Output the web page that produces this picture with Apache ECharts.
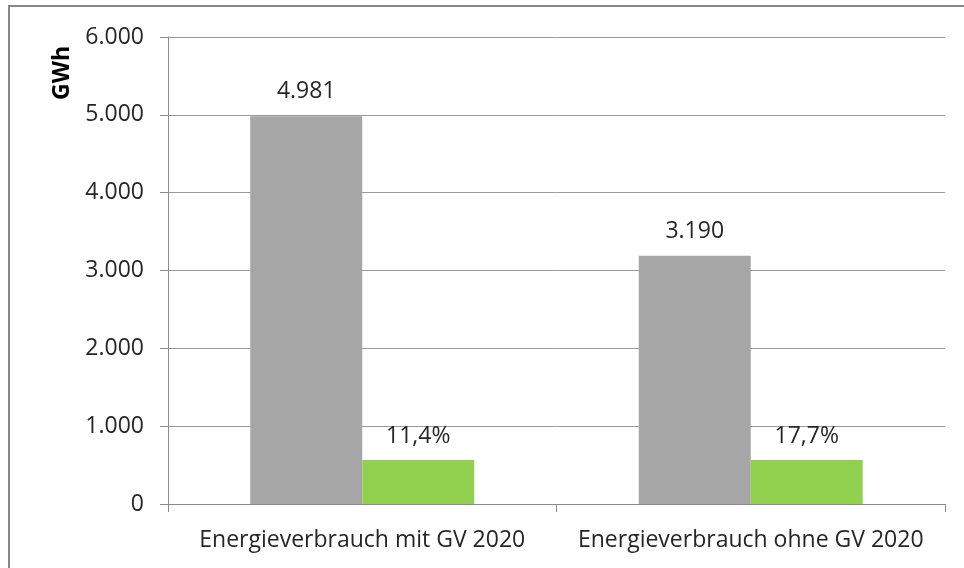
<!DOCTYPE html>
<html>
<head>
<meta charset="utf-8">
<script src="https://cdn.jsdelivr.net/npm/echarts@6/dist/echarts.min.js"></script>
<style>
html,body{margin:0;padding:0;background:#fff;}
#chart{width:964px;height:568px;}
</style>
</head>
<body>
<div id="chart"></div>
<script>
const categories = ['Energieverbrauch mit GV 2020', 'Energieverbrauch ohne GV 2020'];
const grayValues = [4981, 3190];
const greenValues = [566, 565];
const greenLabels = ['11,4%', '17,7%'];
const yTicks = [0, 1000, 2000, 3000, 4000, 5000, 6000];
const yAxisName = 'GWh';

function fmt(v) {
  return String(v).replace(/\B(?=(\d{3})+(?!\d))/g, '.');
}

const FONT = 'Open Sans';
const FS = 23;
const chart = echarts.init(document.getElementById('chart'));
chart.setOption({
  animation: false,
  textStyle: { fontFamily: FONT },
  graphic: [{
    type: 'rect', silent: true, z: -1,
    shape: { x: 9, y: 6, width: 1200, height: 1200 },
    style: { fill: 'none', stroke: '#878787', lineWidth: 2 }
  }, {
    type: 'text', silent: true,
    x: 62, y: 73, rotation: Math.PI / 2,
    style: { text: yAxisName, fill: '#000', font: 'bold 23px "Open Sans"', align: 'center', verticalAlign: 'middle' }
  }],
  grid: { left: 168, right: 19, top: 37, bottom: 64, containLabel: false },
  xAxis: {
    type: 'category',
    data: categories,
    axisLine: { lineStyle: { color: '#8c8c8c', width: 1 } },
    axisTick: { show: true, length: 8, lineStyle: { color: '#8c8c8c' } },
    axisLabel: { interval: 0, color: '#262626', fontSize: FS, fontFamily: FONT, margin: 25 }
  },
  yAxis: {
    type: 'value',
    min: yTicks[0],
    max: yTicks[yTicks.length - 1],
    interval: 1000,
    axisLine: { show: true, lineStyle: { color: '#8c8c8c', width: 1 } },
    axisTick: { show: true, length: 8, lineStyle: { color: '#8c8c8c' } },
    axisLabel: { color: '#262626', fontSize: FS, fontFamily: FONT, margin: 24, formatter: fmt },
    splitLine: { show: true, lineStyle: { color: '#9a9a9a', width: 1 } }
  },
  series: [
    {
      type: 'bar',
      data: grayValues,
      barWidth: 112,
      barGap: '0%',
      itemStyle: { color: '#a6a6a6' },
      label: { show: true, position: 'top', distance: 13, color: '#262626', fontSize: FS, fontFamily: FONT, formatter: p => fmt(p.value) }
    },
    {
      type: 'bar',
      data: greenValues,
      barWidth: 112,
      barGap: '0%',
      itemStyle: { color: '#92d050' },
      label: { show: true, position: 'top', distance: 12, color: '#262626', fontSize: FS, fontFamily: FONT, formatter: p => greenLabels[p.dataIndex] }
    }
  ]
});
</script>
</body>
</html>
